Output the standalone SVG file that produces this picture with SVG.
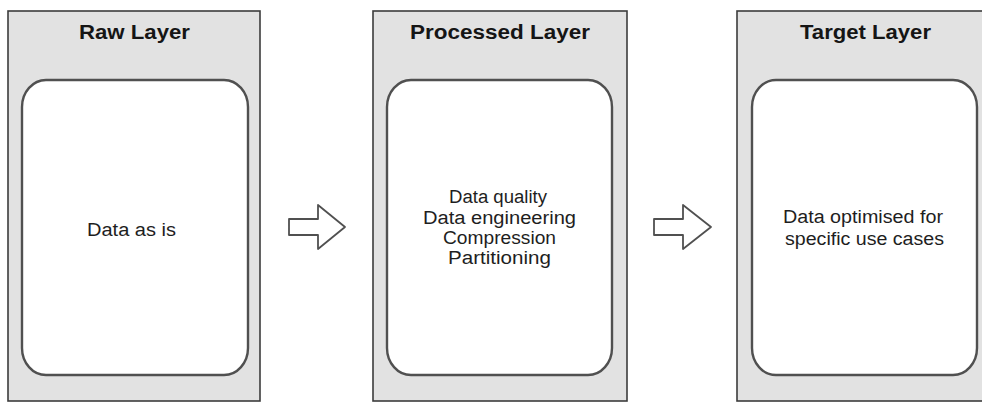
<svg xmlns="http://www.w3.org/2000/svg" width="982" height="403" viewBox="0 0 982 403">
  <style>
    .layer { fill: #e2e2e2; stroke: #3c3c3c; stroke-width: 1.6; }
    .card { fill: #ffffff; stroke: #505050; stroke-width: 2.4; }
    .title { font-family: "Liberation Sans", Arial, sans-serif; font-weight: bold; font-size: 20px; fill: #151515; text-anchor: middle; }
    .body { font-family: "Liberation Sans", Arial, sans-serif; font-size: 18px; fill: #1e1e1e; text-anchor: middle; }
    .flow { fill: #ffffff; stroke: #505050; stroke-width: 1.8; stroke-linejoin: round; }
  </style>
  <rect width="982" height="403" fill="#ffffff"/>

  <g id="raw-layer">
    <rect class="layer" x="8" y="11" width="252" height="390"/>
    <text class="title" x="134.5" y="39" textLength="111" lengthAdjust="spacingAndGlyphs">Raw Layer</text>
    <rect class="card" x="22" y="80" width="226" height="295" rx="24" ry="27"/>
    <text class="body" x="131.5" y="236" textLength="89" lengthAdjust="spacingAndGlyphs">Data as is</text>
  </g>

  <g id="processed-layer">
    <rect class="layer" x="373" y="11" width="254" height="390"/>
    <text class="title" x="500" y="39" textLength="180" lengthAdjust="spacingAndGlyphs">Processed Layer</text>
    <rect class="card" x="387" y="80" width="225" height="295" rx="24" ry="27"/>
    <text class="body" x="498" y="203" textLength="98" lengthAdjust="spacingAndGlyphs">Data quality</text>
    <text class="body" x="499.5" y="223.5" textLength="153" lengthAdjust="spacingAndGlyphs">Data  engineering</text>
    <text class="body" x="499.5" y="244" textLength="113" lengthAdjust="spacingAndGlyphs">Compression</text>
    <text class="body" x="499.5" y="264" textLength="103" lengthAdjust="spacingAndGlyphs">Partitioning</text>
  </g>

  <g id="target-layer">
    <rect class="layer" x="737" y="11" width="256" height="390"/>
    <text class="title" x="865.5" y="39" textLength="131" lengthAdjust="spacingAndGlyphs">Target Layer</text>
    <rect class="card" x="752" y="80" width="225" height="295" rx="24" ry="27"/>
    <text class="body" x="863" y="223" textLength="160" lengthAdjust="spacingAndGlyphs">Data optimised for</text>
    <text class="body" x="864.5" y="245" textLength="159" lengthAdjust="spacingAndGlyphs">specific use cases</text>
  </g>

  <g id="connectors">
    <path class="flow" d="M289 219 H318 V205 L345 227 L318 249 V235 H289 Z"/>
    <path class="flow" d="M654 219 H683 V205 L711 227 L683 249 V235 H654 Z"/>
  </g>
</svg>
